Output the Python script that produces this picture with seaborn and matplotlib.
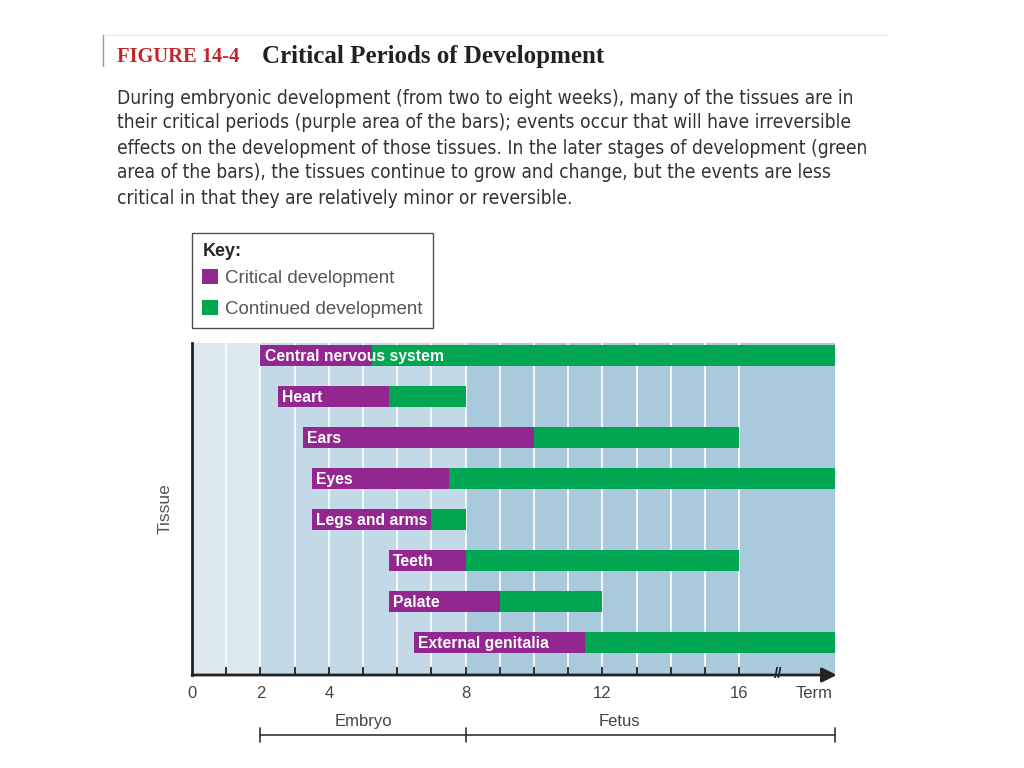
import matplotlib
matplotlib.use("Agg")
import matplotlib.pyplot as plt
from matplotlib.patches import Patch
from matplotlib.lines import Line2D
import seaborn as sns
import pandas as pd
import numpy as np

# weeks of development, "Term" is drawn at the right edge of the axis
TERM = 18.8
tissues = ["Central nervous system", "Heart", "Ears", "Eyes",
           "Legs and arms", "Teeth", "Palate", "External genitalia"]
start = [2.0, 2.5, 3.25, 3.5, 3.5, 5.75, 5.75, 6.5]
crit_end = [5.25, 5.75, 10.0, 7.5, 7.0, 8.0, 9.0, 11.5]
end = [TERM, 8.0, 16.0, TERM, 8.0, 16.0, 12.0, TERM]

tick_pos = [0, 2, 4, 8, 12, 16, 18.2]
tick_lab = ["0", "2", "4", "8", "12", "16", "Term"]
week_marks = list(range(1, 17))

header_lines = [
    "During embryonic development (from two to eight weeks), many of the tissues are in",
    "their critical periods (purple area of the bars); events occur that will have irreversible",
    "effects on the development of those tissues. In the later stages of development (green",
    "area of the bars), the tissues continue to grow and change, but the events are less",
    "critical in that they are relatively minor or reversible.",
]

PURPLE = "#92278f"
GREEN = "#00a651"

df = pd.DataFrame({"tissue": tissues, "start": start, "crit_end": crit_end, "end": end})
df["crit_len"] = df["crit_end"] - df["start"]
df["cont_len"] = df["end"] - df["crit_end"]

sns.set_theme(style="white")
plt.rcParams["font.family"] = ["Liberation Sans", "DejaVu Sans"]

fig = plt.figure(figsize=(10.24, 7.68), dpi=100)
ax = fig.add_axes([192 / 1024, 1 - 675 / 768, 643 / 1024, 332 / 768])

# background bands for the stages
ax.axvspan(0, 2, color="#dde9f1", lw=0, zorder=0)
ax.axvspan(2, 8, color="#c4d9e7", lw=0, zorder=0)
ax.axvspan(8, TERM, color="#a9c9dc", lw=0, zorder=0)
for w in week_marks:
    ax.axvline(w, color="white", lw=1.2, zorder=1)

sns.barplot(data=df, y="tissue", x="crit_len", left=df["start"].to_numpy(),
            color=PURPLE, saturation=1, errorbar=None, width=0.51, orient="h",
            ax=ax, zorder=3, linewidth=0, edgecolor="none")
sns.barplot(data=df, y="tissue", x="cont_len", left=df["crit_end"].to_numpy(),
            color=GREEN, saturation=1, errorbar=None, width=0.51, orient="h",
            ax=ax, zorder=3, linewidth=0, edgecolor="none")

for i, row in df.iterrows():
    ax.text(row["start"] + 0.12, i + 0.03, row["tissue"], color="white", fontsize=11.3,
            fontweight="bold", va="center", ha="left", zorder=4)

ax.set_xlim(0, TERM)
ax.set_ylim(7.8, -0.3)
ax.set_yticks([])
ax.set_ylabel("Tissue", fontsize=12.5, color="#555555", labelpad=14)
ax.set_xlabel("")

ax.set_xticks(tick_pos)
ax.set_xticklabels(tick_lab, fontsize=12, color="#444444")
ax.tick_params(axis="x", which="major", length=0, pad=8)

# small inward week ticks on the time axis
tr = ax.get_xaxis_transform()
ax.vlines(week_marks, 0, 0.025, transform=tr, color="#222222", lw=1.3, zorder=6)

for s in ["top", "right", "bottom"]:
    ax.spines[s].set_visible(False)
ax.spines["left"].set_color("#222222")
ax.spines["left"].set_linewidth(2)

# x axis with arrow and break mark
ax.annotate("", xy=(TERM + 0.05, 7.8), xytext=(0, 7.8),
            arrowprops=dict(arrowstyle="-|>", lw=2, color="#222222",
                            mutation_scale=22, shrinkA=0, shrinkB=0),
            annotation_clip=False, zorder=5)
ax.text(17.15, 7.78, "//", fontsize=11, fontweight="bold", ha="center", va="center",
        color="#222222", zorder=6, clip_on=False)

# embryo / fetus brackets
ax.text(5, -0.14, "Embryo", transform=tr, ha="center", va="center",
        fontsize=12, color="#444444")
ax.text(12.5, -0.14, "Fetus", transform=tr, ha="center", va="center",
        fontsize=12, color="#444444")
yb = -0.181
ax.plot([2, TERM], [yb, yb], transform=tr, color="#333333", lw=1.2, clip_on=False)
for xv in [2, 8, TERM]:
    ax.plot([xv, xv], [yb - 0.02, yb + 0.02], transform=tr, color="#333333",
            lw=1.2, clip_on=False)

# key box
handles = [Patch(facecolor=PURPLE, edgecolor="none", label="Critical development"),
           Patch(facecolor=GREEN, edgecolor="none", label="Continued development")]
leg = fig.legend(handles=handles, title="Key:", loc="upper left",
                 bbox_to_anchor=(192 / 1024, 1 - 233 / 768), borderaxespad=0,
                 fontsize=13.5, title_fontproperties={"weight": "bold", "size": 13},
                 frameon=True, fancybox=False, edgecolor="#222222",
                 handlelength=0.85, handleheight=0.85, handletextpad=0.35,
                 labelspacing=0.7, borderpad=0.55, alignment="left")
leg.get_frame().set_linewidth(1.0)
leg._legend_box.sep = 6
for t in leg.get_texts():
    t.set_color("#555555")

# header
fig.add_artist(Line2D([103 / 1024, 888 / 1024], [1 - 35 / 768, 1 - 35 / 768],
                      color="#f1efdc", lw=1))
fig.add_artist(Line2D([103 / 1024, 103 / 1024], [1 - 35 / 768, 1 - 66 / 768],
                      color="#999999", lw=1))
fig.text(117 / 1024, 1 - 57 / 768, "FIGURE 14-4", color="#c1272d", fontsize=14.8,
         fontweight="bold", family=["Liberation Serif", "DejaVu Serif"], va="center")
fig.text(262 / 1024, 1 - 56 / 768, "Critical Periods of Development", color="#222222",
         fontsize=18, fontweight="bold", family=["Liberation Serif", "DejaVu Serif"],
         va="center")
body = []
for k, line in enumerate(header_lines):
    body.append(fig.text(117 / 1024, 1 - (98 + 25 * k) / 768, line, color="#333333",
                         fontsize=13.5, fontstretch="condensed",
                         family=["DejaVu Sans"], va="center"))

# fit the body text to the width of the reference paragraph
fig.canvas.draw()
w = body[2].get_window_extent().width
for t in body:
    t.set_fontsize(13.5 * 749 / w)

fig.savefig("out.png", dpi=100)
